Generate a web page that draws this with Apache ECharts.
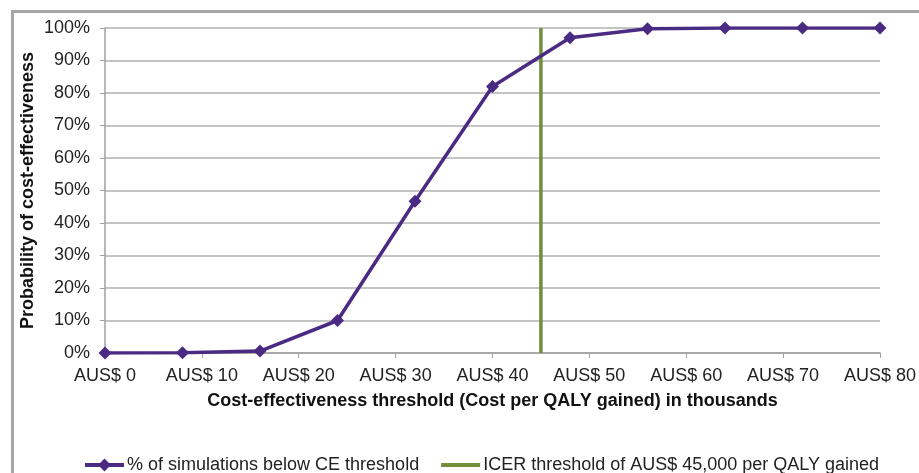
<!DOCTYPE html>
<html>
<head>
<meta charset="utf-8">
<script src="https://cdn.jsdelivr.net/npm/echarts@6/dist/echarts.min.js"></script>
<style>
html,body{margin:0;padding:0;background:#fff;}
#chart{width:919px;height:473px;}
</style>
</head>
<body>
<div id="chart"></div>
<script>
// Data
const thresholds = [0, 8, 16, 24, 32, 40, 48, 56, 64, 72, 80]; // AUS$ thousands
const probability = [0, 0.1, 0.6, 10, 46.7, 82, 97, 99.8, 100, 100, 100]; // %
const icerThreshold = 45; // AUS$ thousands
const icerLine = [0, 100]; // % span
const seriesNames = ['% of simulations below CE threshold', 'ICER threshold of AUS$ 45,000 per QALY gained'];
const xTitle = 'Cost-effectiveness threshold (Cost per QALY gained) in thousands';
const yTitle = 'Probability of cost-effectiveness';

const chart = echarts.init(document.getElementById('chart'));
const font = 'Liberation Sans, Arial, sans-serif';
chart.setOption({
  animation: false,
  backgroundColor: '#fff',
  graphic: [{
    type: 'rect', left: 10, top: 9, silent: true, z: -1,
    shape: { width: 1000, height: 500 },
    style: { fill: 'none', stroke: '#a6a6a6', lineWidth: 3 }
  }],
  grid: { left: 105, right: 38, top: 28, bottom: 120, containLabel: false },
  legend: {
    left: 78, top: 451,
    itemWidth: 39, itemHeight: 16, itemGap: 22,
    symbolKeepAspect: true,
    lineStyle: { width: 4 },
    textStyle: { fontFamily: font, fontSize: 18, color: '#222', padding: [0,0,0,-2] },
    data: [{ name: seriesNames[0] }, { name: seriesNames[1], icon: 'path://M0,0 H40 V4 H0 Z' }]
  },
  xAxis: {
    type: 'value', min: 0, max: 80, interval: 10,
    name: xTitle, nameLocation: 'middle', nameGap: 39, nameMoveOverlap: false,
    nameTextStyle: { fontFamily: font, fontSize: 18, fontWeight: 'bold', color: '#111' },
    axisLine: { show: true, lineStyle: { color: '#a0a0a0', width: 1.5 } },
    axisTick: { show: true, length: 5, lineStyle: { color: '#a0a0a0' } },
    axisLabel: { formatter: 'AUS$ {value}', fontFamily: font, fontSize: 18, color: '#222', margin: 14 },
    splitLine: { show: false }
  },
  yAxis: {
    type: 'value', min: 0, max: 100, interval: 10,
    name: yTitle, nameLocation: 'middle', nameGap: 68, nameMoveOverlap: false,
    nameTextStyle: { fontFamily: font, fontSize: 18, fontWeight: 'bold', color: '#111' },
    axisLine: { show: true, lineStyle: { color: '#a0a0a0', width: 1.5 } },
    axisTick: { show: true, length: 5, lineStyle: { color: '#a0a0a0' } },
    axisLabel: { formatter: '{value}%', fontFamily: font, fontSize: 18, color: '#222', margin: 15 },
    splitLine: { show: true, lineStyle: { color: '#b0b0b0', width: 1.5 } }
  },
  series: [
    {
      name: seriesNames[0], type: 'line',
      data: thresholds.map((x, i) => [x, probability[i]]),
      symbol: 'diamond', symbolSize: 13,
      lineStyle: { color: '#4a2a82', width: 3.5 },
      itemStyle: { color: '#4a2a82' },
      z: 3
    },
    {
      name: seriesNames[1], type: 'line',
      data: icerLine.map(v => [icerThreshold, v]),
      symbol: 'none',
      lineStyle: { color: '#6f8f3a', width: 3.5 },
      itemStyle: { color: '#6f8f3a' },
      z: 2
    }
  ]
});
</script>
</body>
</html>
